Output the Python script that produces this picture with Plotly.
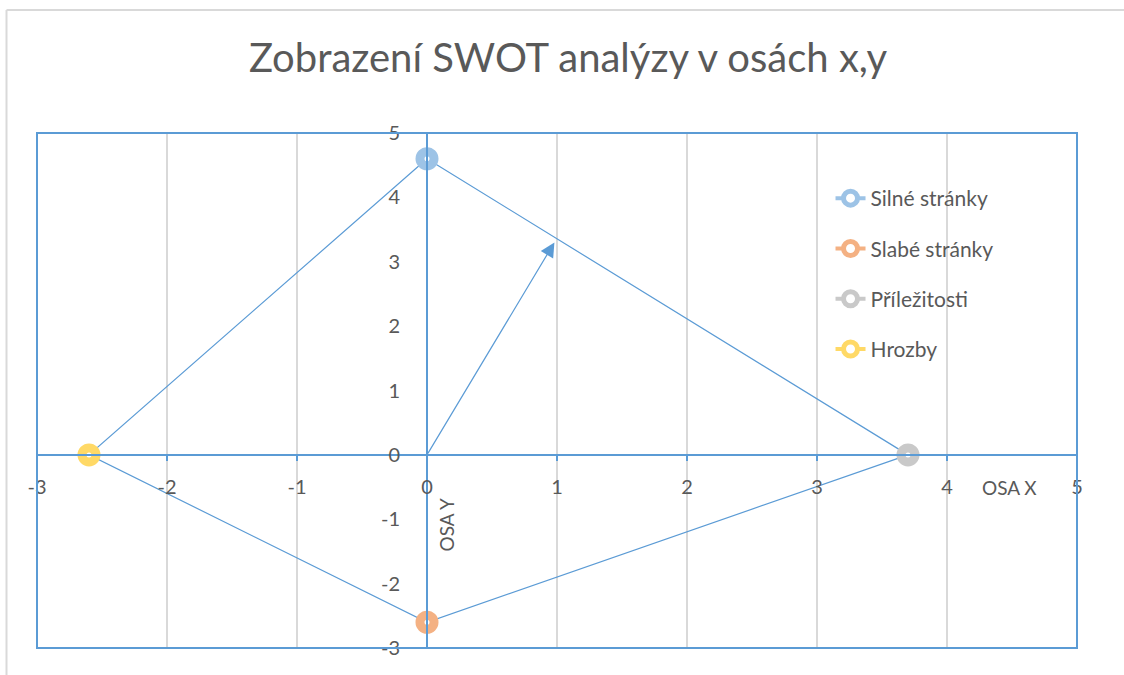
import plotly.graph_objects as go

# ---- data ----
categories = ["Silné stránky", "Slabé stránky", "Příležitosti", "Hrozby"]
x_vals = [0, 0, 3.7, -2.6]
y_vals = [4.6, -2.6, 0, 0]
colors = ["#9DC3E6", "#F4B183", "#C9C9C9", "#FFD966"]
polygon_order = ["Silné stránky", "Příležitosti", "Slabé stránky", "Hrozby", "Silné stránky"]
arrow_end = [0.98, 3.3]
x_ticks = [-3, -2, -1, 0, 1, 2, 3, 4, 5]
y_ticks = [-3, -2, -1, 0, 1, 2, 3, 4, 5]

BLUE = "#5B9BD5"
TXT = "#595959"
FONT = "Lato"

fig = go.Figure()

# connecting quadrilateral
idx = [categories.index(c) for c in polygon_order]
fig.add_trace(go.Scatter(
    x=[x_vals[i] for i in idx], y=[y_vals[i] for i in idx],
    mode="lines", line=dict(color=BLUE, width=1.2),
    showlegend=False, hoverinfo="skip"))

for i, name in enumerate(categories):
    fig.add_trace(go.Scatter(
        x=[x_vals[i]], y=[y_vals[i]], name=name, legendgroup=name,
        mode="lines+markers",
        line=dict(color=colors[i], width=4),
        marker=dict(size=14, color="white", line=dict(color=colors[i], width=9)),
    ))

# arrow from origin
fig.add_annotation(x=arrow_end[0], y=arrow_end[1], ax=0, ay=0,
                   xref="x", yref="y", axref="x", ayref="y",
                   showarrow=True, arrowhead=2, arrowsize=2.4, arrowwidth=1.2,
                   arrowcolor=BLUE, text="")

# axis titles
fig.add_annotation(x=4.48, y=-0.5, xref="x", yref="y", text="OSA X", showarrow=False,
                   font=dict(family=FONT, size=19, color=TXT))
fig.add_annotation(x=0.15, y=-1.09, xref="x", yref="y", text="OSA Y", showarrow=False,
                   textangle=-90, font=dict(family=FONT, size=19, color=TXT))

# plot-area border
fig.add_shape(type="rect", xref="paper", yref="paper", x0=0, x1=1, y0=0, y1=1,
              line=dict(color=BLUE, width=2), layer="above")
# chart-area border (top and left edges only; the rest lies outside the view)
bx0 = (6.5 - 37) / 1040
by1 = (648 - 10) / 515
fig.add_shape(type="line", xref="paper", yref="paper", x0=bx0, x1=1.3, y0=by1, y1=by1,
              line=dict(color="#D9D9D9", width=2))
fig.add_shape(type="line", xref="paper", yref="paper", x0=bx0, x1=bx0, y0=-0.3, y1=by1,
              line=dict(color="#D9D9D9", width=2))

fig.update_layout(
    width=1124, height=675,
    margin=dict(l=37, r=47, t=133, b=27),
    paper_bgcolor="white", plot_bgcolor="white",
    title=dict(text="Zobrazení SWOT analýzy v osách x,y", x=568 / 1124, xanchor="center",
               y=1 - 58 / 675, yanchor="middle", yref="container",
               font=dict(family=FONT, size=40, color=TXT)),
    font=dict(family=FONT, size=20, color=TXT),
    showlegend=True,
    legend=dict(x=0.763, y=(648 - 178) / 515, xanchor="left", yanchor="top",
                bgcolor="rgba(0,0,0,0)", font=dict(family=FONT, size=21, color=TXT),
                tracegroupgap=20),
    xaxis=dict(range=[-3, 5], tickvals=x_ticks, ticktext=[str(v) for v in x_ticks],
               showgrid=True, gridcolor="#D9D9D9", gridwidth=2,
               zeroline=False, showline=True, linecolor=BLUE, linewidth=2,
               anchor="free", position=0.375, ticks="outside", ticklen=5, tickcolor=BLUE,
               tickwidth=2, ticklabelstandoff=9, tickfont=dict(family=FONT, size=20, color=TXT)),
    yaxis=dict(range=[-3, 5], tickvals=y_ticks, ticktext=[str(v) for v in y_ticks],
               showgrid=False, zeroline=False,
               showline=True, linecolor=BLUE, linewidth=2,
               anchor="free", position=0.375, ticks="", ticklabelstandoff=22,
               tickfont=dict(family=FONT, size=20, color=TXT)),
)

fig.write_html("out.html", config={"displayModeBar": False},
               post_script="document.body.style.margin='0';document.body.style.overflow='hidden';")
